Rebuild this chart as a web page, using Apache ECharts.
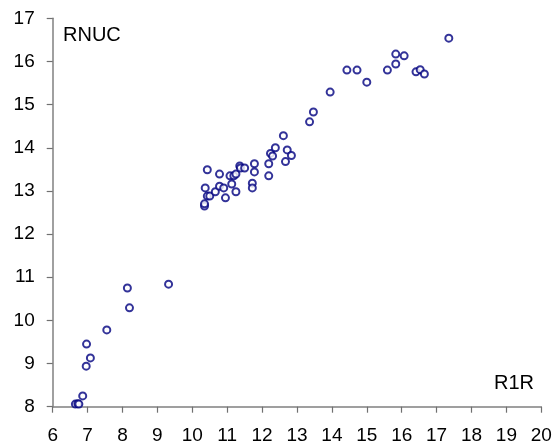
<!DOCTYPE html>
<html><head><meta charset="utf-8">
<script src="https://cdn.jsdelivr.net/npm/echarts@6/dist/echarts.min.js"></script>
<style>html,body{margin:0;padding:0;background:#fff}#c{width:558px;height:448px}</style>
</head><body><div id="c"></div>
<script>
const r1r = [6.65,6.72,6.75,6.86,6.96,6.97,7.08,7.55,8.14,8.20,9.32,
  10.35,10.35,10.37,10.43,10.43,10.50,10.66,10.78,10.78,10.90,10.95,11.08,11.13,11.19,11.25,11.25,
  11.36,11.38,11.50,11.72,11.72,11.78,11.78,12.19,12.19,12.24,12.30,12.38,12.61,12.67,12.72,12.84,
  13.36,13.47,13.95,14.43,14.72,15.00,15.59,15.83,15.83,16.07,16.41,16.53,16.65,17.35];
const rnuc = [8.06,8.07,8.06,8.25,8.94,9.45,9.13,9.78,10.75,10.29,10.84,
  12.65,12.70,13.07,13.49,12.88,12.88,12.98,13.39,13.11,13.07,12.84,13.35,13.16,13.35,13.39,12.98,
  13.58,13.53,13.53,13.18,13.07,13.63,13.44,13.63,13.35,13.87,13.81,14.00,14.28,13.68,13.95,13.82,
  14.60,14.83,15.29,15.80,15.80,15.52,15.80,16.17,15.94,16.13,15.76,15.81,15.71,16.54];
const xName = 'R1R', yName = 'RNUC';
const points = r1r.map((x,i)=>[x, rnuc[i]]);
const chart = echarts.init(document.getElementById('c'));
const font = 'Liberation Sans, Arial, sans-serif';
chart.setOption({
  animation:false,
  grid:{left:52.7,right:16.7,top:18.3,bottom:41.3},
  xAxis:{type:'value',min:6,max:20,interval:1,
    axisLine:{lineStyle:{color:'#808080',width:1.5}},
    axisTick:{show:true,length:6,lineStyle:{color:'#707070',width:1.2}},
    axisLabel:{color:'#000',fontSize:19,fontFamily:font,margin:20},
    splitLine:{show:false}},
  yAxis:{type:'value',min:8,max:17,interval:1,
    axisLine:{show:true,lineStyle:{color:'#808080',width:1.5}},
    axisTick:{show:true,length:6,lineStyle:{color:'#707070',width:1.2}},
    axisLabel:{color:'#000',fontSize:19,fontFamily:font,margin:18},
    splitLine:{show:false}},
  graphic:[
    {type:'text',left:63,top:25,style:{text:yName,fill:'#000',font:'20px '+font}},
    {type:'text',left:494,top:373,style:{text:xName,fill:'#000',font:'20px '+font}}
  ],
  series:[{type:'scatter',data:points,symbol:'circle',symbolSize:7,
    itemStyle:{color:'#fff',borderColor:'#000080',borderWidth:2}}]
});
</script></body></html>
